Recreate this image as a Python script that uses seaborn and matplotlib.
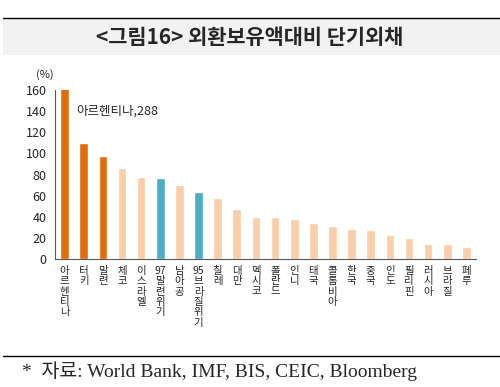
import matplotlib
matplotlib.use('Agg')
import pandas as pd
import seaborn as sns
from matplotlib import pyplot as plt
from matplotlib.patches import Rectangle
from matplotlib.lines import Line2D

### data ###
countries = ['아르헨티나', '터키', '말련', '체코', '이스라엘', '97말련위기', '남아공',
             '95브라질위기', '칠레', '대만', '멕시코', '폴란드', '인니', '태국', '콜롬비아',
             '한국', '중국', '인도', '필리핀', '러시아', '브라질', '페루']
ratio = [288, 110, 98, 86, 78, 77, 70, 63, 58, 47, 40, 40, 38, 34, 31, 28, 27, 23, 20, 14, 14, 11]
group = ['high', 'high', 'high', 'low', 'low', 'crisis', 'low', 'crisis'] + ['low'] * 14

group_colors = {'high': '#E36C0A', 'low': '#FBCDA8', 'crisis': '#4BACC6'}

df = pd.DataFrame({'country': countries, 'ratio': ratio, 'group': group})

sns.set_style('white')
plt.rcParams['font.family'] = ['Noto Sans CJK KR', 'DejaVu Sans']

fig = plt.figure(figsize=(5, 3.87), dpi=100)
ax = fig.add_axes([0.11, 0.331, 0.842, 0.436])

sns.barplot(data=df, x='country', y='ratio', hue='group', palette=group_colors,
            dodge=False, width=0.45, saturation=1, legend=False, ax=ax)

ax.set_ylim(0, 160)
ax.set_yticks(range(0, 161, 20))
ax.set_xlim(-0.5, len(countries) - 0.5)
ax.set_xlabel('')
ax.set_ylabel('')

### vertical stacked tick labels (one character per line, digits kept together) ###
def stack_label(name):
    if name[:2].isdigit():
        return '\n'.join([name[:2]] + list(name[2:]))
    return '\n'.join(list(name))

ax.set_xticks(range(len(countries)))
ax.set_xticklabels([stack_label(c) for c in countries], fontsize=7.5,
                   linespacing=1.05, va='top')
ax.tick_params(axis='x', length=0, pad=5)
ax.set_xticks([i - 0.5 for i in range(len(countries) + 1)], minor=True)
ax.tick_params(axis='x', which='minor', length=4, direction='out', color='#595959', width=0.8)
ax.tick_params(axis='y', length=4, direction='out', color='#595959', width=0.8, labelsize=9, pad=2)

for s in ['top', 'right']:
    ax.spines[s].set_visible(False)
for s in ['left', 'bottom']:
    ax.spines[s].set_color('#595959')
    ax.spines[s].set_linewidth(0.8)

ax.text(-0.55, 170, '(%)', fontsize=8, ha='right', va='bottom')
ax.text(0.6, 140, '아르헨티나,288', fontsize=9, ha='left', va='center')

### title band and footer ###
fig.patches.append(Rectangle((0.006, 1 - 55 / 387), 0.994, 37 / 387, transform=fig.transFigure,
                             facecolor='#F2F2F2', edgecolor='none', zorder=0))
fig.lines.append(Line2D([0.006, 1], [1 - 18 / 387] * 2, transform=fig.transFigure, color='black', lw=1))
fig.text(0.5, 1 - 37 / 387, '<그림16> 외환보유액대비 단기외채', ha='center', va='center',
         fontsize=15, fontweight='bold')
fig.lines.append(Line2D([0.006, 1], [1 - 356 / 387] * 2, transform=fig.transFigure, color='black', lw=1))
fig.text(22 / 500, 1 - 371 / 387, '*  자료: World Bank, IMF, BIS, CEIC, Bloomberg', ha='left', va='center',
         fontsize=14, family=['Liberation Serif', 'Noto Sans CJK KR'])

plt.savefig('out.png', dpi=100)
